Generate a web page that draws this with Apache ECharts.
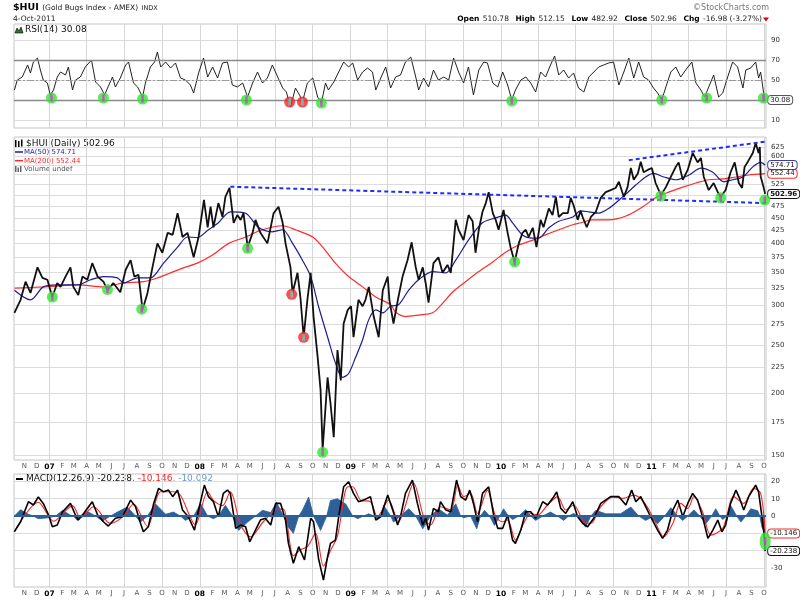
<!DOCTYPE html>
<html><head><meta charset="utf-8">
<script src="https://cdn.jsdelivr.net/npm/echarts@6/dist/echarts.min.js"></script>
<style>html,body{margin:0;padding:0;background:#fff}#c{width:800px;height:600px}</style>
</head><body><div id="c"></div>
<script>
// ---------- tick labels ----------
const monthLetters = ['J','F','M','A','M','J','J','A','S','O','N','D'];
const priceTicks = [150,175,200,225,250,275,300,325,350,375,400,425,450,475,500,525,550,575,600,625];
const priceLabelTicks = [150,175,200,225,250,275,300,325,350,375,400,425,450,475,525,600,625];
const rsiTicks = [10,30,50,70,90];
const rsiLabelTicks = [10,50,70,90];
const macdTicks = [20,10,0,-10,-20,-30];
const macdLabelTicks = [20,10,0,-30];
const headerValues = ['510.78','512.15','482.92','502.96','-16.98 (-3.27%)'];

// ---------- price (close) ----------
const price = [
['2006-10-08',290],['2006-10-23',308],['2006-11-04',335],['2006-11-16',318],['2006-12-03',358],['2006-12-15',341],
['2006-12-27',338],['2007-01-08',312],['2007-01-20',333],['2007-01-28',327],['2007-02-09',343],['2007-02-21',358],
['2007-02-28',327],['2007-03-12',315],['2007-03-22',343],['2007-04-03',338],['2007-04-15',365],['2007-04-28',343],
['2007-05-12',335],['2007-05-22',322],['2007-06-05',333],['2007-06-22',319],['2007-07-05',354],['2007-07-17',370],
['2007-07-26',343],['2007-08-05',346],['2007-08-15',294],['2007-08-27',318],['2007-09-08',358],['2007-09-20',400],
['2007-10-02',383],['2007-10-15',420],['2007-10-27',416],['2007-11-08',460],['2007-11-20',412],['2007-12-02',420],
['2007-12-17',375],['2007-12-29',412],['2008-01-11',489],['2008-01-20',431],['2008-01-27',474],['2008-02-03',431],
['2008-02-15',482],['2008-02-25',452],['2008-03-03',496],['2008-03-13',517],['2008-03-23',440],['2008-04-01',456],
['2008-04-09',446],['2008-04-16',460],['2008-04-26',393],['2008-05-08',420],['2008-05-15',446],['2008-05-27',420],
['2008-06-13',400],['2008-06-28',460],['2008-07-10',474],['2008-07-20',440],['2008-07-27',400],['2008-08-08',358],
['2008-08-13',318],['2008-08-25',349],['2008-09-01',312],['2008-09-09',259],['2008-09-18',308],['2008-09-26',349],
['2008-10-03',285],['2008-10-13',236],['2008-10-20',203],['2008-10-25',154],['2008-11-06',215],['2008-11-13',191],
['2008-11-21',163],['2008-11-30',244],['2008-12-08',212],['2008-12-15',276],['2008-12-25',294],['2009-01-02',299],
['2009-01-08',259],['2009-01-20',308],['2009-01-30',299],['2009-02-06',308],['2009-02-14',327],['2009-02-26',285],
['2009-03-10',259],['2009-03-20',322],['2009-04-01',343],['2009-04-05',308],['2009-04-15',276],['2009-04-27',312],
['2009-05-07',343],['2009-05-19',370],['2009-05-29',402],['2009-06-08',358],['2009-06-15',338],['2009-06-25',358],
['2009-07-02',333],['2009-07-09',304],['2009-07-21',365],['2009-08-02',375],['2009-08-12',349],['2009-08-24',362],
['2009-09-01',349],['2009-09-13',446],['2009-09-20',426],['2009-10-02',406],['2009-10-14',456],['2009-10-24',443],
['2009-10-31',383],['2009-11-08',426],['2009-11-17',463],['2009-11-25',482],['2009-12-02',507],['2009-12-12',460],
['2009-12-19',446],['2009-12-26',426],['2010-01-07',467],['2010-01-17',420],['2010-01-24',393],['2010-02-03',367],
['2010-02-13',400],['2010-02-22',420],['2010-03-02',426],['2010-03-09',412],['2010-03-19',430],['2010-03-28',393],
['2010-04-07',446],['2010-04-14',431],['2010-04-27',470],['2010-05-06',456],['2010-05-14',496],['2010-05-21',452],
['2010-05-31',460],['2010-06-12',460],['2010-06-19',494],['2010-06-26',477],['2010-07-06',446],['2010-07-13',465],
['2010-07-18',452],['2010-07-28',431],['2010-08-07',452],['2010-08-19',463],['2010-08-31',494],['2010-09-12',507],
['2010-09-24',512],['2010-10-06',517],['2010-10-14',532],['2010-10-26',496],['2010-11-04',519],['2010-11-12',567],
['2010-11-19',537],['2010-11-29',553],['2010-12-06',584],['2010-12-13',556],['2010-12-23',562],['2011-01-02',567],
['2011-01-11',529],['2011-01-24',500],['2011-02-05',519],['2011-02-17',544],['2011-03-01',570],['2011-03-08',582],
['2011-03-18',537],['2011-03-30',562],['2011-04-11',608],['2011-04-23',582],['2011-05-01',594],['2011-05-08',544],
['2011-05-20',512],['2011-06-01',529],['2011-06-11',507],['2011-06-18',496],['2011-06-30',512],['2011-07-12',556],
['2011-07-22',582],['2011-08-01',529],['2011-08-09',517],['2011-08-15',570],['2011-08-23',584],['2011-09-04',608],
['2011-09-11',637],['2011-09-18',608],['2011-09-21',625],['2011-09-23',545],['2011-09-27',530],['2011-09-30',519],
['2011-10-04',502.96]
];
const ma50 = [
['2006-10-08',322],['2006-11-16',308],['2006-12-17',327],['2007-01-20',330],['2007-03-10',330],['2007-04-11',338],
['2007-05-12',343],['2007-06-15',341],['2007-06-30',333],['2007-08-03',341],['2007-09-03',341],['2007-10-05',365],
['2007-11-08',393],['2007-12-02',412],['2007-12-26',411],['2008-01-22',426],['2008-02-15',440],['2008-03-15',463],
['2008-04-21',460],['2008-05-22',431],['2008-06-25',422],['2008-07-20',426],['2008-08-13',400],['2008-09-06',370],
['2008-09-26',343],['2008-10-15',299],['2008-11-08',256],['2008-11-25',230],['2008-12-12',215],['2008-12-27',219],
['2009-01-13',236],['2009-01-30',256],['2009-02-14',281],['2009-03-03',294],['2009-03-20',290],['2009-04-08',299],
['2009-04-27',301],['2009-05-22',322],['2009-06-15',338],['2009-07-19',351],['2009-08-20',349],['2009-09-13',370],
['2009-10-14',406],['2009-11-17',440],['2009-12-19',450],['2010-01-12',456],['2010-01-29',440],['2010-02-22',416],
['2010-03-19',410],['2010-04-02',410],['2010-04-27',430],['2010-05-21',443],['2010-06-24',452],['2010-07-13',465],
['2010-08-02',463],['2010-08-26',460],['2010-09-19',470],['2010-10-23',496],['2010-11-24',524],['2010-12-18',544],
['2011-01-06',553],['2011-01-31',544],['2011-03-01',537],['2011-04-02',549],['2011-05-01',567],['2011-05-30',556],
['2011-06-25',532],['2011-07-17',537],['2011-08-11',544],['2011-09-04',570],['2011-09-23',582],['2011-10-04',574.71]
];
const ma200 = [
['2006-10-08',325],['2006-12-17',327],['2007-03-10',330],['2007-05-12',327],['2007-06-30',333],['2007-08-17',335],
['2007-09-20',341],['2007-10-22',349],['2007-11-22',357],['2007-12-26',365],['2008-02-01',379],['2008-03-11',400],
['2008-04-21',412],['2008-06-01',426],['2008-07-20',434],['2008-08-20',426],['2008-10-01',412],['2008-10-25',393],
['2008-11-25',365],['2008-12-27',343],['2009-01-30',327],['2009-03-03',312],['2009-04-08',301],['2009-04-20',291],
['2009-05-14',285],['2009-06-15',287],['2009-07-19',290],['2009-08-12',303],['2009-09-05',319],['2009-10-07',335],
['2009-11-08',351],['2009-12-12',367],['2010-01-12',384],['2010-02-13',397],['2010-03-19',406],['2010-04-19',416],
['2010-05-21',426],['2010-06-24',436],['2010-07-13',440],['2010-08-11',446],['2010-09-19',446],['2010-10-31',454],
['2010-12-11',474],['2011-01-11',494],['2011-02-12',507],['2011-03-18',519],['2011-04-19',529],['2011-05-20',537],
['2011-06-23',539],['2011-07-25',544],['2011-08-25',549],['2011-10-04',552.44]
];
// ---------- RSI(14) ----------
const rsi = [
['2006-10-08',40],['2006-10-15',50],['2006-10-27',53],['2006-11-09',65],['2006-11-16',57],['2006-11-23',68],
['2006-12-03',72],['2006-12-10',60],['2006-12-17',50],['2006-12-27',47],['2007-01-03',35],['2007-01-11',40],
['2007-01-20',53],['2007-01-28',58],['2007-02-09',55],['2007-02-16',63],['2007-02-26',40],['2007-03-05',50],
['2007-03-17',53],['2007-03-29',63],['2007-04-13',70],['2007-04-23',48],['2007-05-05',43],['2007-05-15',35],
['2007-05-22',42],['2007-06-03',53],['2007-06-10',43],['2007-06-22',52],['2007-07-05',65],['2007-07-12',68],
['2007-07-24',47],['2007-08-03',43],['2007-08-15',33],['2007-08-22',47],['2007-09-03',63],['2007-09-13',68],
['2007-09-20',78],['2007-09-28',63],['2007-10-10',68],['2007-10-22',62],['2007-11-03',67],['2007-11-15',52],
['2007-11-27',50],['2007-12-09',45],['2007-12-17',37],['2007-12-29',57],['2008-01-10',72],['2008-01-20',53],
['2008-02-01',63],['2008-02-13',52],['2008-02-25',67],['2008-03-08',68],['2008-03-20',45],['2008-04-01',43],
['2008-04-14',47],['2008-04-26',33],['2008-05-08',47],['2008-05-20',58],['2008-06-01',47],['2008-06-13',52],
['2008-06-25',65],['2008-07-08',53],['2008-07-20',42],['2008-07-29',38],['2008-08-08',23],['2008-08-20',42],
['2008-08-30',35],['2008-09-06',28],['2008-09-18',47],['2008-10-01',52],['2008-10-13',33],['2008-10-22',27],
['2008-11-01',47],['2008-11-08',40],['2008-11-21',48],['2008-12-03',58],['2008-12-15',68],['2008-12-27',63],
['2009-01-06',67],['2009-01-18',50],['2009-01-30',58],['2009-02-11',62],['2009-02-23',58],['2009-03-03',40],
['2009-03-15',52],['2009-03-27',63],['2009-04-08',42],['2009-04-20',53],['2009-05-02',55],['2009-05-14',68],
['2009-05-27',73],['2009-06-08',53],['2009-06-15',40],['2009-06-27',52],['2009-07-09',43],['2009-07-21',60],
['2009-08-02',50],['2009-08-15',53],['2009-08-27',50],['2009-09-08',72],['2009-09-20',58],['2009-10-02',47],
['2009-10-14',63],['2009-10-26',35],['2009-11-08',60],['2009-11-20',68],['2009-11-29',67],['2009-12-12',47],
['2009-12-24',43],['2010-01-05',58],['2010-01-17',45],['2010-01-27',30],['2010-02-05',40],['2010-02-18',50],
['2010-03-02',53],['2010-03-14',47],['2010-03-26',38],['2010-04-07',58],['2010-04-19',53],['2010-05-01',65],
['2010-05-11',74],['2010-05-21',55],['2010-06-02',60],['2010-06-14',52],['2010-06-26',57],['2010-07-08',42],
['2010-07-21',38],['2010-08-02',53],['2010-08-14',58],['2010-08-26',63],['2010-09-07',65],['2010-09-19',67],
['2010-10-01',68],['2010-10-14',45],['2010-10-26',58],['2010-11-07',72],['2010-11-19',52],['2010-12-01',68],
['2010-12-13',53],['2010-12-25',50],['2011-01-06',42],['2011-01-16',37],['2011-01-26',30],['2011-02-05',43],
['2011-02-17',58],['2011-03-01',63],['2011-03-13',53],['2011-03-25',60],['2011-04-09',68],['2011-04-19',47],
['2011-05-01',40],['2011-05-10',33],['2011-05-20',43],['2011-06-01',55],['2011-06-13',33],['2011-06-23',37],
['2011-07-05',53],['2011-07-17',68],['2011-07-29',63],['2011-08-11',42],['2011-08-18',60],['2011-08-30',62],
['2011-09-11',68],['2011-09-18',52],['2011-09-23',58],['2011-10-01',35],['2011-10-04',30.08]
];
// ---------- MACD(12,26,9) ----------
const macd = [
['2006-10-08',-9],['2006-10-23',-3.3],['2006-11-11',8.3],['2006-11-23',6.4],['2006-12-05',11],['2006-12-17',7.3],
['2006-12-30',0.6],['2007-01-08',-6.2],['2007-01-20',-5.2],['2007-02-02',2.5],['2007-02-21',7.3],['2007-03-05',0.6],
['2007-03-12',-2.3],['2007-03-25',1.5],['2007-04-15',8.3],['2007-04-28',0.6],['2007-05-12',-3.3],['2007-05-24',-5.8],
['2007-06-10',-1.3],['2007-06-27',-0.4],['2007-07-17',9.2],['2007-07-29',5.4],['2007-08-10',-4.2],['2007-08-17',-9.1],
['2007-08-29',-6.2],['2007-09-11',7.3],['2007-09-23',16],['2007-10-05',14],['2007-10-17',15],['2007-10-27',11.2],
['2007-11-08',15],['2007-11-20',3.5],['2007-12-04',-0.4],['2007-12-19',-8.1],['2007-12-29',3.5],['2008-01-12',17.9],
['2008-01-22',11.2],['2008-02-03',8.3],['2008-02-15',-0.4],['2008-02-27',13.1],['2008-03-08',15],['2008-03-15',13.1],
['2008-03-28',-7.1],['2008-04-09',-5.2],['2008-04-21',-6.2],['2008-05-01',-14.9],['2008-05-15',-8.1],['2008-05-27',-2.3],
['2008-06-08',-1.3],['2008-06-21',-5.2],['2008-07-03',7.3],['2008-07-15',7.3],['2008-07-27',-2.3],['2008-08-03',-15.8],
['2008-08-15',-27.3],['2008-08-28',-17.7],['2008-09-11',-25.4],['2008-09-26',-1.3],['2008-10-03',-3.3],['2008-10-15',-24.5],
['2008-10-27',-37],['2008-11-06',-23.5],['2008-11-13',-15.8],['2008-11-25',-13.9],['2008-12-03',-0.4],['2008-12-15',16.9],
['2008-12-27',19.8],['2009-01-08',13.1],['2009-01-20',8.3],['2009-02-01',9.2],['2009-02-18',11.2],['2009-03-03',-2.3],
['2009-03-15',-0.4],['2009-04-01',12.1],['2009-04-13',3.5],['2009-04-25',-5.2],['2009-05-02',-0.4],['2009-05-14',13.1],
['2009-05-31',20.8],['2009-06-12',7.3],['2009-06-25',-5.2],['2009-07-02',-1.3],['2009-07-09',-8.1],['2009-07-21',4.4],
['2009-08-02',2.5],['2009-08-07',8.3],['2009-08-20',3.5],['2009-09-01',2.5],['2009-09-15',20.8],['2009-09-25',11.2],
['2009-10-07',9.2],['2009-10-17',15],['2009-10-26',7.3],['2009-11-05',-3.3],['2009-11-17',13.1],['2009-12-02',16.9],
['2009-12-14',0.6],['2009-12-24',-7.1],['2010-01-05',-7.1],['2010-01-17',0.6],['2010-01-29',-13.9],['2010-02-05',-15.8],
['2010-02-18',-8.1],['2010-03-02',2.5],['2010-03-14',2.5],['2010-03-26',-1.3],['2010-04-12',8.3],['2010-04-24',6.4],
['2010-05-09',11.2],['2010-05-16',14],['2010-05-26',4.4],['2010-06-07',1.5],['2010-06-24',8.3],['2010-07-06',-0.4],
['2010-07-18',-4.2],['2010-07-30',-6.2],['2010-08-14',-1.3],['2010-08-31',7.3],['2010-09-24',11.2],['2010-10-14',11.2],
['2010-10-31',6.4],['2010-11-14',15],['2010-11-24',8.3],['2010-12-06',11.2],['2010-12-18',5.4],['2010-12-30',-0.4],
['2011-01-16',-8.1],['2011-01-28',-12.9],['2011-02-09',-8.1],['2011-02-22',3.5],['2011-03-06',9.2],['2011-03-18',-0.4],
['2011-03-30',7.3],['2011-04-11',13.1],['2011-04-23',9.2],['2011-05-05',-0.4],['2011-05-18',-12.9],['2011-05-30',-8.1],
['2011-06-11',-2.3],['2011-06-21',-9.1],['2011-06-30',-5.2],['2011-07-12',7.3],['2011-07-25',15],['2011-08-03',10.2],
['2011-08-13',3.5],['2011-08-25',11.2],['2011-09-11',17.9],['2011-09-18',14],['2011-09-26',0],['2011-10-01',-10],
['2011-10-04',-20.238]
];
const signal = [
['2006-10-08',-9],['2006-12-05',8],['2007-01-11',-3],['2007-02-26',6],['2007-03-17',-1],['2007-04-18',5.4],
['2007-05-29',-4.2],['2007-06-30',0],['2007-07-24',7],['2007-08-27',-6],['2007-09-28',14],['2007-10-29',14],
['2007-11-15',12],['2007-12-21',-5],['2008-01-20',14],['2008-02-03',9],['2008-02-25',6],['2008-03-15',14],
['2008-04-09',-5],['2008-05-03',-12],['2008-06-04',-3],['2008-07-08',4],['2008-07-22',4],['2008-08-15',-23],
['2008-09-01',-19.5],['2008-09-18',-17.7],['2008-10-08',-10],['2008-10-27',-29],['2008-11-13',-20],['2008-11-30',-11.6],
['2008-12-25',16.9],['2009-01-06',16.9],['2009-01-25',9.2],['2009-02-18',8.3],['2009-03-07',-0.4],['2009-04-03',9.2],
['2009-04-27',-3.3],['2009-06-03',18.9],['2009-06-27',-0.4],['2009-07-14',-5.2],['2009-08-07',5.4],['2009-09-01',3.5],
['2009-09-18',17.9],['2009-10-02',11.2],['2009-10-19',13.1],['2009-11-05',1.5],['2009-11-29',15],['2009-12-19',-0.4],
['2010-01-05',-3.3],['2010-01-17',-2.3],['2010-02-05',-13.9],['2010-02-25',-4.2],['2010-03-14',1.5],['2010-03-31',0.6],
['2010-04-24',6.4],['2010-05-18',11.2],['2010-06-07',3.5],['2010-06-26',6.4],['2010-07-21',-3.3],['2010-08-07',-4.2],
['2010-08-31',5.4],['2010-10-01',11.2],['2010-10-23',10.2],['2010-11-19',12.1],['2010-12-13',8.3],['2011-01-06',-1.3],
['2011-01-31',-12],['2011-02-22',-4.2],['2011-03-13',7.3],['2011-03-30',4.4],['2011-04-14',11.2],['2011-05-05',2.5],
['2011-05-25',-11],['2011-06-23',-7.1],['2011-07-20',11.2],['2011-08-13',7.3],['2011-09-06',16],['2011-09-23',13.1],
['2011-10-04',-10.146]
];
const hist = [
['2006-10-08',0],['2006-10-23',3.7],['2006-11-11',1],['2006-11-23',0],['2006-12-05',-1.5],['2006-12-30',-1],
['2007-01-16',0],['2007-02-02',3.3],['2007-02-21',0.5],['2007-02-28',0],['2007-03-10',-2.5],['2007-03-17',0],
['2007-04-03',2.7],['2007-04-23',0],['2007-05-10',-2.9],['2007-05-29',0],['2007-06-15',2.3],['2007-07-09',5.2],
['2007-07-29',0],['2007-08-10',-3.5],['2007-08-27',0],['2007-09-15',7.1],['2007-10-10',1],['2007-10-29',2.3],
['2007-11-15',0],['2007-11-27',-2.5],['2007-12-17',0],['2008-01-03',7.1],['2008-01-20',0],['2008-02-03',-1.5],
['2008-02-15',0],['2008-03-03',6.2],['2008-03-20',0],['2008-04-04',-8.3],['2008-04-26',-3.5],['2008-05-15',0],
['2008-06-01',3.3],['2008-06-21',2],['2008-07-05',8],['2008-07-22',0],['2008-08-03',-6.4],['2008-08-15',-10],
['2008-08-28',0],['2008-09-06',3.3],['2008-09-21',11],['2008-10-03',0],['2008-10-20',-8.3],['2008-11-04',0],
['2008-11-13',9],['2008-11-30',10],['2008-12-20',7],['2009-01-06',0],['2009-01-18',-1.5],['2009-02-01',0],
['2009-02-14',1.3],['2009-02-26',0],['2009-03-07',-1.5],['2009-03-15',0],['2009-03-22',6.2],['2009-04-08',0],
['2009-04-15',-3.5],['2009-05-02',0],['2009-05-22',4.2],['2009-06-08',0],['2009-06-25',-7.4],['2009-07-14',0],
['2009-08-02',4.2],['2009-08-24',0.5],['2009-09-13',7.1],['2009-09-25',0],['2009-10-02',-1],['2009-10-19',0],
['2009-11-03',-7.4],['2009-11-12',0],['2009-11-22',3.3],['2009-12-04',0],['2009-12-16',-5.4],['2009-12-29',0],
['2010-01-07',4.2],['2010-01-19',0],['2010-01-29',-2],['2010-02-13',0],['2010-03-02',3.7],['2010-03-14',0],
['2010-03-26',-2.5],['2010-04-12',0],['2010-05-01',2.3],['2010-05-18',0],['2010-06-02',-2.5],['2010-06-14',0],
['2010-06-26',1.5],['2010-07-08',0],['2010-07-25',-6.4],['2010-08-07',0],['2010-08-19',3.3],['2010-09-12',1.3],
['2010-10-18',1.3],['2010-11-12',5.2],['2010-12-01',0],['2010-12-18',-2.5],['2010-12-30',-1],['2011-01-16',-4.4],
['2011-02-02',0],['2011-02-17',4.8],['2011-03-06',0],['2011-03-18',-2.5],['2011-03-30',0],['2011-04-14',3.5],
['2011-04-28',0],['2011-05-13',-4.4],['2011-05-27',0],['2011-06-06',4.2],['2011-06-16',0],['2011-06-23',-2],
['2011-07-03',0],['2011-07-12',6.2],['2011-07-27',0],['2011-08-06',-3.5],['2011-08-18',0],['2011-08-30',4.2],
['2011-09-16',3],['2011-09-21',0],['2011-09-26',-6.4],['2011-10-04',-10.092]
];
// ---------- annotations ----------
const priceDotsGreen = [['2007-01-08',312],['2007-05-22',323],['2007-08-13',295],['2008-04-26',391],['2008-10-25',152],['2010-02-03',367],['2011-01-24',498],['2011-06-18',494],['2011-10-03',489]];
const priceDotsRed = [['2008-08-11',316],['2008-09-09',259]];
const rsiDotsGreen = [['2007-01-06',32],['2007-05-12',32],['2007-08-15',31],['2008-04-23',30],['2008-10-22',27],['2010-01-27',29],['2011-01-26',30],['2011-05-15',32],['2011-09-30',32]];
const rsiDotsRed = [['2008-08-06',28],['2008-09-06',28]];
const macdDot = [['2011-10-04',-14.5]];
const trendLower = [['2008-03-15',520],['2011-10-06',482]];
const trendUpper = [['2010-11-07',588],['2011-10-06',641]];

// ---------- build library tables (date string -> timestamp) ----------
const ts = s => { const p = s.split('-'); return new Date(+p[0], +p[1] - 1, +p[2]).getTime(); };
const T = arr => arr.map(d => [ts(d[0]), d[1]]);
const xMin = new Date(2006,9,7).getTime(), xMax = new Date(2011,9,6).getTime();
const monthTicks = [], quarterTicks = [];
for (let y = 2006; y <= 2011; y++) for (let m = 0; m < 12; m++) {
  const t = new Date(y, m, 1).getTime();
  if (t < xMin || t > xMax) continue;
  monthTicks.push(t);
  if (m % 3 === 0) quarterTicks.push(t);
}
const FONT = 'DejaVu Sans';
function xAxisFor(gi, show, margin) {
  return {
    type: 'value', gridIndex: gi, min: xMin, max: xMax,
    axisLine: {show: false}, axisTick: {show: false, customValues: quarterTicks},
    splitLine: {show: true, lineStyle: {color: '#d6d6d6', width: 1}},
    axisLabel: {
      show: show, customValues: monthTicks, margin: margin, fontSize: 7, color: '#555', fontFamily: FONT,
      hideOverlap: false, showMinLabel: true, showMaxLabel: true,
      formatter: v => { const d = new Date(v); const m = d.getMonth();
        return m === 0 ? '{y|' + String(d.getFullYear()).slice(2) + '}' : monthLetters[m]; },
      rich: {y: {fontWeight: 'bold', color: '#000', fontSize: 7.5, fontFamily: FONT}}
    }
  };
}
function yAxisFor(gi, type, min, max, labelVals, tickVals) {
  return {
    type: type, gridIndex: gi, position: 'right', min: min, max: max,
    axisLine: {show: false}, axisTick: {show: false, customValues: tickVals},
    splitLine: {show: true, lineStyle: {color: '#dcdcdc', width: 1}},
    axisLabel: {customValues: labelVals, margin: 5, fontSize: 7, color: '#333', fontFamily: FONT, formatter: v => String(v)}
  };
}
function endLbl(text, border, bold) {
  return {show: true, formatter: () => text, distance: 3, fontSize: 7, fontFamily: FONT, color: '#111',
    fontWeight: bold ? 'bold' : 'normal', backgroundColor: '#fff', borderColor: border, borderWidth: 1,
    borderRadius: 3, padding: [1, 2, 0, 2]};
}
function dots(xi, yi, data, color, inner) {
  return [
    {type: 'scatter', xAxisIndex: xi, yAxisIndex: yi, data: T(data), symbol: 'circle', symbolSize: 11, z: 5,
     itemStyle: {color: color}, silent: true},
    {type: 'scatter', xAxisIndex: xi, yAxisIndex: yi, data: T(data), symbol: 'rect', symbolSize: [2.5, 7], z: 6,
     itemStyle: {color: inner}, silent: true}
  ];
}
const GREEN = '#2ee82e', RED = '#ff2020', MAG = '#d63ad6', CYAN = '#4fd9e0';

const chart = echarts.init(document.getElementById('c'), null, {renderer: 'canvas'});
chart.setOption({
  animation: false,
  backgroundColor: '#fff',
  grid: [
    {left: 14, right: 34, top: 24, height: 104, show: true, borderColor: '#c4c4c4', borderWidth: 1},
    {left: 14, right: 34, top: 137, height: 323, show: true, borderColor: '#c4c4c4', borderWidth: 1},
    {left: 14, right: 34, top: 474, height: 113, show: true, borderColor: '#c4c4c4', borderWidth: 1}
  ],
  xAxis: [xAxisFor(0, false, 2), xAxisFor(1, true, 3), xAxisFor(2, true, 3)],
  yAxis: [
    yAxisFor(0, 'value', 2, 106, rsiLabelTicks, rsiTicks),
    yAxisFor(1, 'log', 146.7, 654.6, priceLabelTicks, priceTicks),
    yAxisFor(2, 'value', -41, 24.3, macdLabelTicks, macdTicks)
  ],
  series: [
    {type: 'line', name: 'RSI', xAxisIndex: 0, yAxisIndex: 0, data: T(rsi), symbol: 'none', z: 3,
     lineStyle: {color: '#222', width: 1}, endLabel: endLbl('30.08', '#555', false),
     markLine: {silent: true, symbol: 'none', label: {show: false},
       data: [{yAxis: 70, lineStyle: {color: '#8a8a8a', width: 1.3, type: 'solid'}},
              {yAxis: 30, lineStyle: {color: '#8a8a8a', width: 1.3, type: 'solid'}},
              {yAxis: 50, lineStyle: {color: '#9a9a9a', width: 1, type: [7, 2, 2, 2]}}]}},
    ...dots(0, 0, rsiDotsGreen, GREEN, MAG),
    ...dots(0, 0, rsiDotsRed, RED, CYAN),
    {type: 'line', name: 'MA200', xAxisIndex: 1, yAxisIndex: 1, data: T(ma200), symbol: 'none', z: 3, smooth: 0.3,
     lineStyle: {color: '#ff2a2a', width: 1.2}, endLabel: endLbl('552.44', '#ff2a2a', false)},
    {type: 'line', name: 'MA50', xAxisIndex: 1, yAxisIndex: 1, data: T(ma50), symbol: 'none', z: 3, smooth: 0.3,
     lineStyle: {color: '#1c1c96', width: 1.2}, endLabel: endLbl('574.71', '#3a3ab8', false)},
    {type: 'line', name: '$HUI', xAxisIndex: 1, yAxisIndex: 1, data: T(price), symbol: 'none', z: 4,
     lineStyle: {color: '#111', width: 1.8}, endLabel: endLbl('502.96', '#111', true),
     markLine: {silent: true, symbol: 'none', label: {show: false},
       lineStyle: {color: '#1f2cff', width: 2, type: [4, 3]},
       data: [[{coord: [ts(trendLower[0][0]), trendLower[0][1]]}, {coord: [ts(trendLower[1][0]), trendLower[1][1]]}],
              [{coord: [ts(trendUpper[0][0]), trendUpper[0][1]]}, {coord: [ts(trendUpper[1][0]), trendUpper[1][1]]}]]}},
    ...dots(1, 1, priceDotsGreen, GREEN, MAG),
    ...dots(1, 1, priceDotsRed, RED, CYAN),
    {type: 'line', name: 'Hist', xAxisIndex: 2, yAxisIndex: 2, data: T(hist), symbol: 'none', z: 2,
     lineStyle: {color: '#2d5f98', width: 0.8}, areaStyle: {color: '#2d5f98', opacity: 1, origin: 0},
     markLine: {silent: true, symbol: 'none', label: {show: false},
       data: [{yAxis: 0, lineStyle: {color: '#2d5f98', width: 2, type: 'solid'}}]}},
    {type: 'line', name: 'Signal', xAxisIndex: 2, yAxisIndex: 2, data: T(signal), symbol: 'none', z: 3, smooth: 0.3,
     lineStyle: {color: '#ff2424', width: 1.1}, endLabel: endLbl('-10.146', '#ff2424', false)},
    {type: 'line', name: 'MACD', xAxisIndex: 2, yAxisIndex: 2, data: T(macd), symbol: 'none', z: 4,
     lineStyle: {color: '#000', width: 1.6}, endLabel: endLbl('-20.238', '#111', false)},
    {type: 'scatter', xAxisIndex: 2, yAxisIndex: 2, data: T(macdDot), symbol: 'circle', symbolSize: [11, 18], z: 5,
     itemStyle: {color: GREEN}, silent: true},
    {type: 'scatter', xAxisIndex: 2, yAxisIndex: 2, data: T(macdDot), symbol: 'rect', symbolSize: [2.5, 8], z: 6,
     itemStyle: {color: MAG}, silent: true}
  ],
  graphic: [
    {type: 'text', x: 13, y: 8, style: {text: '{a|$HUI} {b|(Gold Bugs Index - AMEX)} {c|INDX}', verticalAlign: 'middle', textVerticalAlign: 'middle',
      rich: {a: {fontSize: 9.5, fontWeight: 'bold', fontFamily: FONT, fill: '#000'},
             b: {fontSize: 7.5, fontFamily: FONT, fill: '#222'},
             c: {fontSize: 6.5, fontFamily: FONT, fill: '#222'}}}},
    {type: 'text', x: 13, y: 19.5, style: {text: '4-Oct-2011', fontSize: 7.5, fontFamily: FONT, fill: '#222', verticalAlign: 'middle', textVerticalAlign: 'middle'}},
    {type: 'text', x: 769, y: 8, style: {text: '\u00a9StockCharts.com', fontSize: 8, fontFamily: FONT, fill: '#777', align: 'right', textAlign: 'right', verticalAlign: 'middle', textVerticalAlign: 'middle'}},
    {type: 'text', x: 762, y: 19, style: {
      text: '{b|Open} {n|' + headerValues[0] + '}  {b|High} {n|' + headerValues[1] + '}  {b|Low} {n|' + headerValues[2] + '}  {b|Close} {n|' + headerValues[3] + '}  {b|Chg} {n|' + headerValues[4] + '}',
      align: 'right', textAlign: 'right', verticalAlign: 'middle', textVerticalAlign: 'middle',
      rich: {b: {fontSize: 7.5, fontWeight: 'bold', fontFamily: FONT, fill: '#000'}, n: {fontSize: 7.5, fontFamily: FONT, fill: '#222'}}}},
    {type: 'polygon', shape: {points: [[763, 17.5], [769, 17.5], [766, 21.5]]}, style: {fill: '#e00000'}},
    {type: 'polygon', shape: {points: [[15, 33], [17, 28], [19, 31], [21, 27], [23, 33]]}, style: {fill: '#2a7a2a', stroke: '#000', lineWidth: 0.6}},
    {type: 'text', x: 25, y: 29.5, style: {text: 'RSI(14) 30.08', fontSize: 9, fontFamily: FONT, fill: '#111', verticalAlign: 'middle', textVerticalAlign: 'middle'}},
    {type: 'rect', shape: {x: 15, y: 140, width: 1.5, height: 7}, style: {fill: '#000'}},
    {type: 'rect', shape: {x: 18, y: 141, width: 1.5, height: 6}, style: {fill: '#000'}},
    {type: 'rect', shape: {x: 21, y: 139.5, width: 1.5, height: 7}, style: {fill: '#000'}},
    {type: 'text', x: 26, y: 143.5, style: {text: '$HUI (Daily) 502.96', fontSize: 9, fontFamily: FONT, fill: '#111', verticalAlign: 'middle', textVerticalAlign: 'middle'}},
    {type: 'line', shape: {x1: 15, y1: 152, x2: 23, y2: 152}, style: {stroke: '#1c1c96', lineWidth: 1.5}},
    {type: 'text', x: 24, y: 152, style: {text: 'MA(50) 574.71', fontSize: 7, fontFamily: FONT, fill: '#1c1c96', verticalAlign: 'middle', textVerticalAlign: 'middle'}},
    {type: 'line', shape: {x1: 15, y1: 160.7, x2: 23, y2: 160.7}, style: {stroke: '#ff2a2a', lineWidth: 1.5}},
    {type: 'text', x: 24, y: 160.7, style: {text: 'MA(200) 552.44', fontSize: 7, fontFamily: FONT, fill: '#ff2a2a', verticalAlign: 'middle', textVerticalAlign: 'middle'}},
    {type: 'rect', shape: {x: 15, y: 166, width: 1.5, height: 6}, style: {fill: '#666'}},
    {type: 'rect', shape: {x: 17.5, y: 167.5, width: 1.5, height: 4.5}, style: {fill: '#666'}},
    {type: 'rect', shape: {x: 20, y: 165, width: 1.5, height: 7}, style: {fill: '#666'}},
    {type: 'text', x: 24, y: 169, style: {text: 'Volume undef', fontSize: 7, fontFamily: FONT, fill: '#555', verticalAlign: 'middle', textVerticalAlign: 'middle'}},
    {type: 'line', shape: {x1: 16, y1: 479, x2: 23, y2: 479}, style: {stroke: '#000', lineWidth: 2}},
    {type: 'text', x: 26, y: 479, style: {text: '{k|MACD(12,26,9) -20.238}{r|, -10.146}{s|, -10.092}', verticalAlign: 'middle', textVerticalAlign: 'middle',
      rich: {k: {fontSize: 9, fontFamily: FONT, fill: '#111'}, r: {fontSize: 9, fontFamily: FONT, fill: '#ff2020'}, s: {fontSize: 9, fontFamily: FONT, fill: '#6f9cc4'}}}}
  ]
});
</script>
</body></html>
